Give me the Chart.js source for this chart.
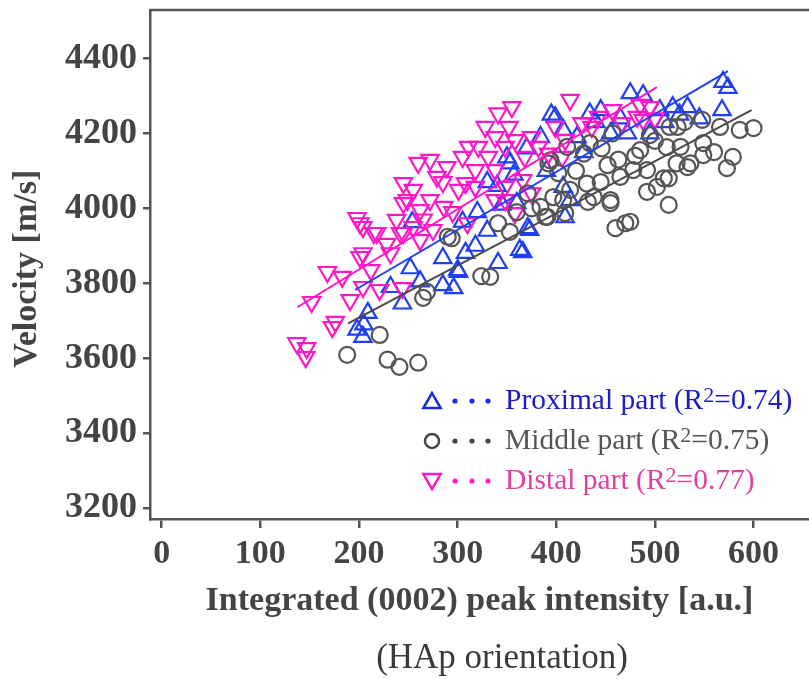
<!DOCTYPE html>
<html><head><meta charset="utf-8">
<script src="https://cdn.jsdelivr.net/npm/chart.js@4.4.1/dist/chart.umd.min.js"></script>
<style>html,body{margin:0;padding:0;background:#fff;overflow:hidden;} #wrap{width:809px;height:679px;position:relative;}</style>
</head><body><div id="wrap"><canvas id="c"></canvas></div>
<script>
const seriesNames = ['Proximal part', 'Middle part', 'Distal part'];
const r2Values = ['0.74', '0.75', '0.77'];
const xTickValues = [0, 100, 200, 300, 400, 500, 600];
const yTickValues = [3200, 3400, 3600, 3800, 4000, 4200, 4400];
const xTitle = 'Integrated (0002) peak intensity [a.u.]';
const yTitle = 'Velocity [m/s]';
const subTitle = '(HAp orientation)';

const proximalPoints = [
  [198,3676],[204,3657],[209,3721],[205,3690],[244,3746],[232,3790],[252,3840],[262,3805],
  [285,3867],[285,3795],[296,3787],[300,3835],[305,3964],[308,3881],[301,3830],[318,3900],
  [330,3940],[341,3854],[350,4136],[353,4120],[360,4014],[366,3883],[371,3947],[373,3942],
  [340,4060],[345,4010],[357,4090],[363,3889],[370,4160],[384,4190],[390,4100],[395,4250],
  [399,4243],[407,4209],[407,4057],[409,3976],[414,4022],[421,4190],[428,4150],[434,4253],
  [440,4230],[445,4262],[455,4200],[465,4240],[472,4200],[475,4307],[488,4302],[495,4200],
  [505,4262],[510,4230],[518,4270],[525,4250],[533,4270],[545,4240],[568,4262],[569,4337],
  [574,4321],[320,3990],[330,4070],[254,3963]
];
const middlePoints = [
  [188,3609],[221,3662],[229,3596],[241,3577],[260,3588],[265,3761],[269,3777],[290,3924],
  [324,3819],[333,3817],[341,3960],[353,3937],[389,3977],[409,3987],[460,3947],[470,3960],
  [455,4014],[432,4017],[457,4200],[428,4146],[446,4160],[392,4120],[402,4094],[485,4155],
  [463,4130],[452,4115],[492,4102],[512,4163],[523,4217],[548,4236],[566,4217],[586,4209],
  [600,4214],[579,4137],[573,4107],[549,4142],[549,4174],[536,4120],[522,4120],[514,4080],
  [502,4057],[514,4009],[492,4044],[475,3964],[455,4022],[438,4030],[431,4066],[465,4084],
  [478,4102],[407,4022],[394,4128],[411,4164],[434,4174],[414,4049],[397,4030],[384,4004],
  [391,3977],[294,3920],[371,4040],[515,4217],[495,4195],[509,4080],[533,4110],[526,4164],
  [420,4100],[445,4070],[480,4140],[500,4180],[360,3990],[375,4000],[530,4230],[560,4150]
];
const distalPoints = [
  [137,3640],[147,3627],[146,3603],[173,3683],[176,3697],[152,3750],[168,3830],[183,3817],
  [191,3755],[201,3870],[204,3790],[221,3782],[244,3787],[212,3835],[232,3880],[242,3934],
  [262,3915],[204,3950],[215,3934],[255,3950],[275,3942],[201,3960],[218,3934],[238,3969],
  [245,3934],[204,3880],[198,3974],[260,4121],[272,4129],[289,4110],[279,4084],[245,4067],
  [255,4049],[245,4014],[272,4022],[286,4004],[262,3995],[249,4022],[414,4289],[355,4270],
  [341,4253],[457,4262],[352,4217],[328,4217],[338,4190],[311,4164],[321,4164],[305,4137],
  [331,4137],[348,4164],[358,4182],[375,4190],[382,4164],[399,4217],[426,4227],[436,4217],
  [467,4227],[368,4137],[392,4146],[338,4102],[318,4102],[308,4067],[301,4049],[318,4057],
  [348,4057],[366,4075],[375,4040],[338,4022],[348,4022],[409,4182],[443,4244],[358,3987],
  [406,4137],[485,4276],[495,4270],[488,4236],[500,4240],[482,4244],[295,3990],[310,3960],
  [228,3905],[285,4070],[265,3970]
];
const proximalFit = [[196,3782],[574,4366]];
const middleFit = [[189,3693],[598,4262]];
const distalFit = [[137.5,3736],[502,4323]];

const colors = {
  proximal: '#1f3ff0', middle: '#555555', distal: '#ff18c8',
  proximalText: '#1c1cc8', middleText: '#555555', distalText: '#e0409f'
};
const toXY = arr => arr.map(p => ({x: p[0], y: p[1]}));
const serif = '"Liberation Serif", "Times New Roman", serif';

const overlayPlugin = {
  id: 'overlay',
  afterDraw(chart) {
    const ctx = chart.ctx, a = chart.chartArea;
    ctx.save();
    ctx.strokeStyle = '#555'; ctx.lineWidth = 2.5;
    ctx.beginPath(); ctx.moveTo(a.left, a.top); ctx.lineTo(a.right, a.top); ctx.stroke();
    const rows = [
      {style: 'triangle', rot: 0, mc: '#1a2ee0', tc: colors.proximalText},
      {style: 'circle', rot: 0, mc: '#444', tc: colors.middleText},
      {style: 'triangle', rot: 180, mc: colors.distal, tc: colors.distalText}
    ];
    const rowY = [401, 441, 481];
    rows.forEach((r, i) => {
      const y = rowY[i];
      ctx.strokeStyle = r.mc; ctx.fillStyle = 'rgba(0,0,0,0)';
      Chart.helpers.drawPoint(ctx, {pointStyle: r.style, rotation: r.rot,
        radius: r.style === 'circle' ? 7 : 10, borderWidth: 3.5}, 432,
        r.style === 'triangle' ? (r.rot === 0 ? y + 2 : y - 2) : y);
      ctx.fillStyle = r.mc;
      [455, 472, 488].forEach(dx => { ctx.beginPath(); ctx.arc(dx, y, 2.6, 0, Math.PI * 2); ctx.fill(); });
      ctx.fillStyle = r.tc; ctx.textBaseline = 'middle'; ctx.textAlign = 'left';
      let x = 505;
      ctx.font = '29.5px ' + serif;
      const t1 = seriesNames[i] + ' (R';
      ctx.fillText(t1, x, y); x += ctx.measureText(t1).width;
      ctx.font = '22px ' + serif;
      ctx.fillText('2', x, y - 5); x += ctx.measureText('2').width;
      ctx.font = '29.5px ' + serif;
      ctx.fillText('=' + r2Values[i] + ')', x, y);
    });
    // subtitle below the x-axis title
    ctx.fillStyle = '#3a3a3a'; ctx.textAlign = 'center'; ctx.textBaseline = 'middle';
    ctx.font = '35px ' + serif;
    ctx.fillText(subTitle, 502, 659);
    ctx.restore();
  }
};

new Chart(document.getElementById('c'), {
  type: 'scatter',
  data: {
    datasets: [
      {data: toXY(proximalFit), showLine: true, pointRadius: 0, borderColor: colors.proximal, borderWidth: 2, order: 0},
      {data: toXY(middleFit), showLine: true, pointRadius: 0, borderColor: '#4a4a4a', borderWidth: 2, order: 0},
      {data: toXY(distalFit), showLine: true, pointRadius: 0, borderColor: colors.distal, borderWidth: 2, order: 0},
      {label: seriesNames[1], data: toXY(middlePoints), pointStyle: 'circle', pointRadius: 8,
       borderColor: colors.middle, backgroundColor: 'rgba(0,0,0,0)', borderWidth: 2.2, order: 1},
      {label: seriesNames[2], data: toXY(distalPoints), pointStyle: 'triangle', rotation: 180, pointRadius: 10,
       borderColor: colors.distal, backgroundColor: 'rgba(0,0,0,0)', borderWidth: 2.2, order: 2},
      {label: seriesNames[0], data: toXY(proximalPoints), pointStyle: 'triangle', pointRadius: 10,
       borderColor: colors.proximal, backgroundColor: 'rgba(0,0,0,0)', borderWidth: 2.2, order: 3}
    ]
  },
  options: {
    responsive: true, maintainAspectRatio: false, animation: false,
    layout: {autoPadding: false, padding: {top: 10, right: 0, left: 0, bottom: 42}},
    plugins: {legend: {display: false}, tooltip: {enabled: false}},
    scales: {
      x: {
        type: 'linear', position: 'bottom', min: -11.86, max: 656.2,
        afterBuildTicks: s => { s.ticks = xTickValues.map(v => ({value: v})); },
        afterFit: s => { s.height = 118; s.paddingLeft = 0; s.paddingRight = 0; },
        ticks: {color: '#444', padding: 6, maxRotation: 0, callback: v => String(v),
          font: {family: serif, size: 34, weight: 'bold'}},
        grid: {display: true, drawOnChartArea: false, drawTicks: true, tickLength: 9, color: '#555', lineWidth: 2.5},
        border: {display: true, color: '#555', width: 2.5},
        title: {display: true, text: xTitle, color: '#444', font: {family: serif, size: 34, weight: 'bold'},
          padding: {top: 0, bottom: 15}}
      },
      y: {
        type: 'linear', min: 3171, max: 4529,
        afterBuildTicks: s => { s.ticks = yTickValues.map(v => ({value: v})); },
        afterFit: s => { s.width = 150; s.paddingTop = 0; s.paddingBottom = 0; },
        ticks: {color: '#444', padding: 6, callback: v => String(v),
          font: {family: serif, size: 36, weight: 'bold'}},
        grid: {display: true, drawOnChartArea: false, drawTicks: true, tickLength: 7, color: '#555', lineWidth: 2.5},
        border: {display: true, color: '#555', width: 2.5},
        title: {display: true, text: yTitle + ' ', color: '#444', font: {family: serif, size: 34, weight: 'bold'},
          padding: {top: 7, bottom: 0}}
      }
    }
  },
  plugins: [overlayPlugin]
});
</script>
</body></html>
